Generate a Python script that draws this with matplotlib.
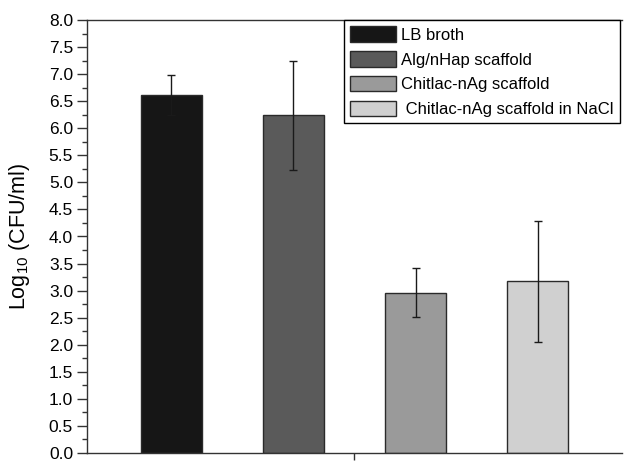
import matplotlib
matplotlib.use("Agg")
import matplotlib.pyplot as plt
from matplotlib.ticker import MultipleLocator, FormatStrFormatter

plt.rcParams['font.family'] = ['Liberation Sans', 'DejaVu Sans']
plt.rcParams['mathtext.fontset'] = 'custom'
plt.rcParams['mathtext.rm'] = 'Liberation Sans'

# data
grupos = ['LB broth', 'Alg/nHap scaffold', 'Chitlac-nAg scaffold', ' Chitlac-nAg scaffold in NaCl']
valores = [6.61, 6.24, 2.96, 3.17]
erros = [0.37, 1.01, 0.45, 1.12]
cores = ['#161616', '#5a5a5a', '#9a9a9a', '#d0d0d0']
posicoes = [1, 2, 3, 4]

fig = plt.figure(figsize=(6.25, 4.61), dpi=100)
ax = fig.add_axes([87/625, 8/461, (622-87)/625, (453-20)/461])

barras = ax.bar(posicoes, valores, width=0.5, color=cores, edgecolor='#2a2a2a',
                linewidth=1.0)
ax.errorbar(posicoes, valores, yerr=erros, fmt='none', ecolor='#1a1a1a',
            elinewidth=1.0, capsize=3, capthick=1.0)

ax.set_xlim(0.31, 4.69)
ax.set_ylim(0, 8)
ax.set_xticks([2.5])
ax.set_xticklabels([''])
ax.yaxis.set_major_locator(MultipleLocator(0.5))
ax.yaxis.set_minor_locator(MultipleLocator(0.25))
ax.yaxis.set_major_formatter(FormatStrFormatter('%.1f'))
ax.tick_params(axis='y', which='major', length=7, width=1, labelsize=12.5, pad=3, color='#333333')
ax.tick_params(axis='y', which='minor', length=3.5, width=1, color='#333333')
ax.tick_params(axis='x', which='major', length=5, width=1, color='#333333')
ax.spines['right'].set_visible(False)
for s in ['left', 'bottom', 'top']:
    ax.spines[s].set_color('#333333')
    ax.spines[s].set_linewidth(1.0)

ax.set_ylabel('Log$_{10}$ (CFU/ml)', fontsize=15.5, labelpad=12)

leg = ax.legend(barras, grupos, loc='upper right', bbox_to_anchor=(0.996, 1.0),
                borderaxespad=0, fancybox=False, edgecolor='black', fontsize=12,
                handlelength=2.75, handleheight=1.05, labelspacing=0.5,
                handletextpad=0.3, borderpad=0.38, framealpha=1)
leg.get_frame().set_linewidth(1.0)

fig.savefig('out.png', dpi=100)
